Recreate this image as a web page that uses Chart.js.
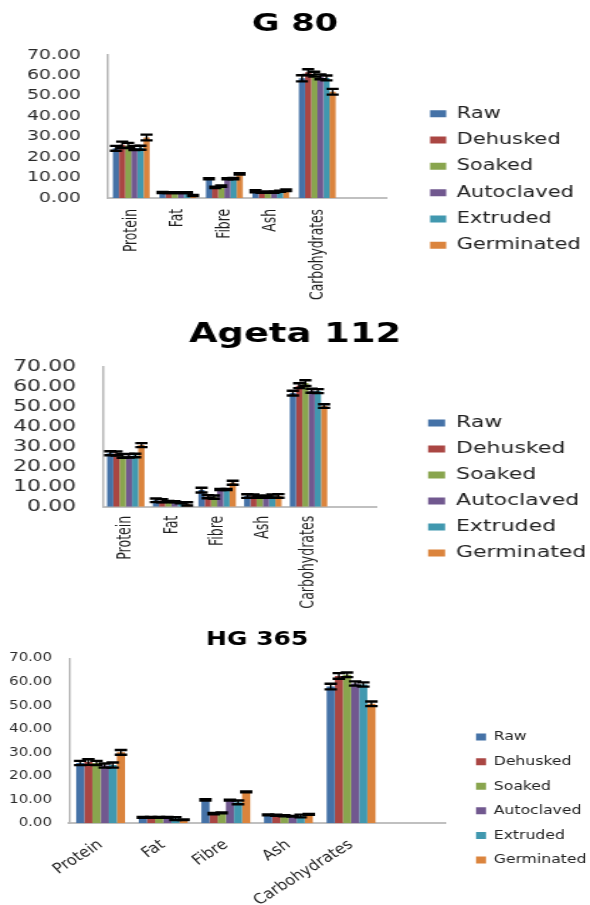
<!DOCTYPE html>
<html>
<head>
<meta charset="utf-8">
<title>Proximate composition by processing treatment</title>
<script src="https://cdn.jsdelivr.net/npm/chart.js@4.4.1/dist/chart.umd.min.js"></script>
<style>
  html, body { margin: 0; padding: 0; background: #fff; }
  body { width: 590px; height: 905px; position: relative; overflow: hidden; }
  canvas { position: absolute; left: 0; transform-origin: 0 0; }
</style>
</head>
<body>
<canvas id="g80" width="437" height="300" style="top:0px; transform:scaleX(1.3501);"></canvas>
<canvas id="ageta112" width="416" height="310" style="top:300px; transform:scaleX(1.4183);"></canvas>
<canvas id="hg365" width="472" height="305" style="top:600px; transform:scaleX(1.25);"></canvas>
<script>
// Nutrient categories (the trailing blank slot leaves room at the right of each plot)
const nutrients = ['Protein', 'Fat', 'Fibre', 'Ash', 'Carbohydrates', ''];
const treatments = ['Raw', 'Dehusked', 'Soaked', 'Autoclaved', 'Extruded', 'Germinated'];
const treatmentColours = ['#4572A7', '#AA4643', '#89A54E', '#71588F', '#4198AF', '#DB843D'];

// G 80 — mean (%) per treatment, columns follow `nutrients`
const g80Mean = [
  [24.3, 2.7, 9.4, 3.3, 58.6],
  [26.1, 2.6, 5.2, 2.8, 61.6],
  [25.7, 2.6, 5.8, 2.8, 60.6],
  [24.5, 2.6, 9.4, 2.9, 59.3],
  [24.6, 2.6, 9.5, 3.3, 58.8],
  [29.6, 1.2, 11.8, 3.8, 52.0]
];
const g80SD = [
  [1.2, 0.3, 0.3, 0.5, 1.5],
  [1.5, 0.2, 0.3, 0.3, 1.4],
  [1.3, 0.2, 0.3, 0.3, 1.2],
  [1.0, 0.2, 0.3, 0.3, 1.2],
  [1.0, 0.2, 0.3, 0.3, 1.2],
  [1.4, 0.3, 0.3, 0.4, 1.4]
];

// Ageta 112
const ageta112Mean = [
  [26.7, 3.2, 8.3, 5.3, 56.8],
  [26.6, 3.0, 5.0, 5.3, 60.5],
  [25.4, 2.6, 4.8, 5.0, 61.8],
  [25.5, 2.5, 8.6, 5.0, 58.0],
  [25.6, 2.0, 8.6, 5.3, 57.8],
  [30.8, 1.4, 12.0, 5.4, 50.3]
];
const ageta112SD = [
  [1.0, 0.9, 1.2, 0.9, 1.2],
  [1.0, 0.8, 0.8, 0.8, 1.2],
  [0.9, 0.3, 0.8, 0.5, 1.4],
  [0.9, 0.3, 0.3, 0.5, 1.0],
  [0.9, 0.3, 0.3, 0.8, 1.0],
  [1.0, 0.8, 1.0, 0.9, 0.9]
];

// HG 365
const hg365Mean = [
  [25.6, 2.5, 9.9, 3.6, 58.0],
  [26.0, 2.5, 4.1, 3.4, 62.5],
  [25.6, 2.5, 4.4, 3.2, 63.0],
  [24.5, 2.5, 9.8, 3.0, 59.3],
  [24.7, 2.0, 8.9, 3.1, 58.9],
  [30.1, 1.5, 13.3, 3.8, 50.7]
];
const hg365SD = [
  [0.9, 0.2, 0.3, 0.2, 1.2],
  [1.2, 0.2, 0.3, 0.2, 1.2],
  [0.9, 0.2, 0.2, 0.2, 1.0],
  [0.9, 0.2, 0.2, 0.1, 0.9],
  [1.1, 0.6, 0.8, 0.6, 0.9],
  [1.0, 0.1, 0.2, 0.2, 1.0]
];

const yMin = 0, yMax = 70, yStep = 10;

Chart.defaults.font.family = "'DejaVu Sans', Verdana, sans-serif";
Chart.defaults.color = '#1f1f1f';

// Draws ±SD whiskers on every bar, positioned through the value scale
const errorBars = {
  id: 'errorBars',
  afterDatasetsDraw(chart, args, opts) {
    const { ctx } = chart;
    const y = chart.scales.y;
    ctx.save();
    ctx.strokeStyle = '#000';
    ctx.lineCap = 'butt';
    chart.data.datasets.forEach((ds, i) => {
      const meta = chart.getDatasetMeta(i);
      if (meta.hidden) return;
      meta.data.forEach((bar, j) => {
        const v = ds.data[j], e = ds.errors[j];
        if (v == null || e == null) return;
        const yTop = y.getPixelForValue(v + e);
        const yBot = y.getPixelForValue(v - e);
        const x = bar.x, h = opts.capHalf;
        ctx.lineWidth = opts.stemWidth;
        ctx.beginPath();
        ctx.moveTo(x, yTop);
        ctx.lineTo(x, yBot);
        ctx.stroke();
        ctx.lineWidth = opts.capWidth;
        ctx.beginPath();
        ctx.moveTo(x - h, yTop); ctx.lineTo(x + h, yTop);
        ctx.moveTo(x - h, yBot); ctx.lineTo(x + h, yBot);
        ctx.stroke();
      });
    });
    ctx.restore();
  }
};

// Gives the right-hand legend a fixed column width instead of the default cap
const legendWidth = {
  id: 'legendWidth',
  afterInit(chart, args, opts) {
    const lg = chart.legend;
    if (!lg) return;
    const fit = lg.fit.bind(lg);
    lg.fit = function () {
      fit();
      this.width = opts.width;
    };
  }
};

const narrowFont = "'Liberation Sans Narrow', 'DejaVu Sans Condensed', 'Arial Narrow', sans-serif";

function panel(canvasId, title, means, sds, lay) {
  return new Chart(document.getElementById(canvasId), {
    type: 'bar',
    data: {
      labels: nutrients,
      datasets: treatments.map((name, i) => ({
        label: name,
        data: means[i],
        errors: sds[i],
        yAxisID: 'y',
        backgroundColor: treatmentColours[i],
        borderWidth: 0,
        categoryPercentage: lay.catPct,
        barPercentage: 1
      }))
    },
    options: {
      responsive: false,
      animation: false,
      devicePixelRatio: 1,
      events: [],
      layout: { padding: 0 },
      plugins: {
        title: {
          display: true,
          text: title,
          fullSize: lay.titleFull,
          color: '#000',
          font: { size: lay.titleSize, weight: 'bold' },
          padding: { top: lay.titleTop, bottom: lay.titleBottom }
        },
        legend: {
          position: 'right',
          align: 'start',
          labels: {
            boxWidth: lay.boxW,
            boxHeight: lay.boxH,
            padding: lay.legendPad,
            color: '#222',
            font: { size: lay.legendFont }
          },
          title: {
            display: true,
            text: ' ',
            font: { size: 10 },
            padding: { top: lay.legendOffset - 12, bottom: 0 }
          }
        },
        legendWidth: { width: lay.legendW },
        tooltip: { enabled: false },
        errorBars: { capHalf: lay.capHalf, capWidth: 2.4, stemWidth: 1.4 }
      },
      scales: {
        x: {
          grid: { display: false, drawTicks: false },
          border: { display: true, color: '#c0c0c0', width: 2 },
          ticks: {
            autoSkip: false,
            minRotation: lay.rot,
            maxRotation: lay.rot,
            padding: lay.xPad,
            color: '#1f1f1f',
            font: { family: narrowFont, size: lay.xFont }
          },
          afterFit: s => { s.height = lay.xHeight; }
        },
        y: {
          min: yMin,
          max: yMax,
          grid: { display: false, drawTicks: false },
          border: { display: true, color: '#b8b8b8', width: 1.5 },
          ticks: {
            stepSize: yStep,
            autoSkip: false,
            padding: lay.yPad,
            color: '#2a2a2a',
            font: { size: lay.yFont },
            callback: v => v.toFixed(2)
          },
          afterFit: s => { s.width = lay.yWidth; }
        },
        gap: {
          type: 'linear',
          position: 'right',
          display: true,
          grid: { display: false, drawTicks: false },
          border: { display: false },
          ticks: { display: false },
          afterFit: s => { s.width = lay.gapWidth; }
        }
      }
    },
    plugins: [errorBars, legendWidth]
  });
}

panel('g80', 'G 80', g80Mean, g80SD, {
  catPct: 0.79, legendW: 129.3,
  titleFull: true, titleSize: 25, titleTop: 9.5, titleBottom: 15.5,
  boxW: 12, boxH: 7, legendPad: 10.8, legendFont: 15.5, legendOffset: 95.2,
  capHalf: 4.5, rot: 90, xPad: 11, xFont: 13.7, xHeight: 102,
  yPad: 20, yFont: 14, yWidth: 80, gapWidth: 21
});

panel('ageta112', 'Ageta 112', ageta112Mean, ageta112SD, {
  catPct: 0.82, legendW: 124.7,
  titleFull: true, titleSize: 26, titleTop: 19.4, titleBottom: 16.1,
  boxW: 12, boxH: 7, legendPad: 10.5, legendFont: 15.5, legendOffset: 104.8,
  capHalf: 4.3, rot: 90, xPad: 9, xFont: 14, xHeight: 103.3,
  yPad: 19, yFont: 15.5, yWidth: 72.6, gapWidth: 25.5
});

panel('hg365', 'HG 365', hg365Mean, hg365SD, {
  catPct: 0.78, legendW: 103.3,
  titleFull: false, titleSize: 20, titleTop: 28, titleBottom: 6.3,
  boxW: 8, boxH: 7, legendPad: 12.1, legendFont: 12.5, legendOffset: 118.7,
  capHalf: 5, rot: 38, xPad: 13, xFont: 14.5, xHeight: 81.7,
  yPad: 13.8, yFont: 12, yWidth: 55.4, gapWidth: 12.7
});
</script>
</body>
</html>
